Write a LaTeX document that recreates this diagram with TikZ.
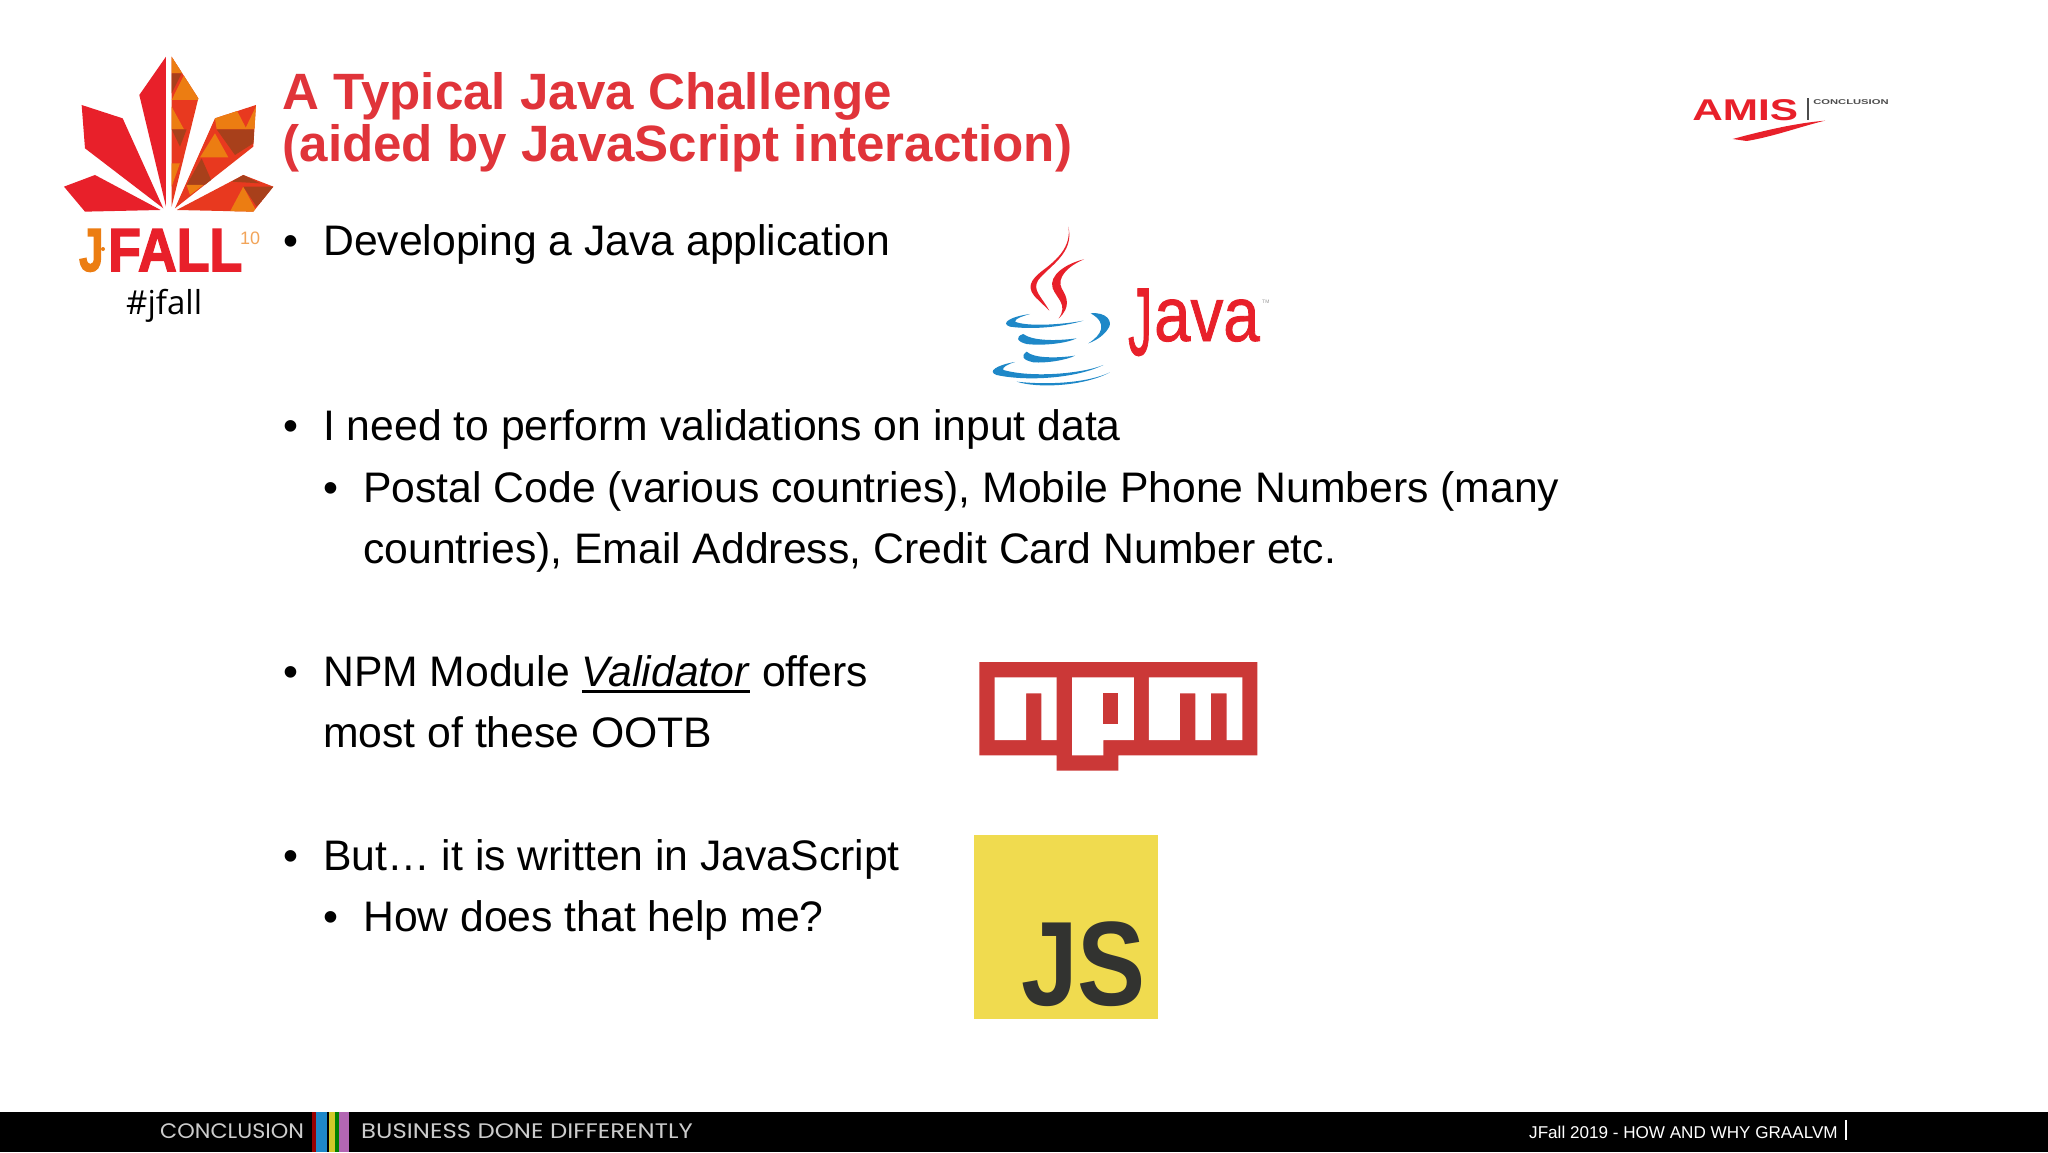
\documentclass[tikz,border=0pt]{standalone}
\usepackage{fontspec}
\setmainfont{Liberation Sans}
\newfontfamily\tagfont{Open Sans}
\newfontfamily\barfont{Poppins}
\newfontfamily\logofont{Liberation Sans}[BoldFeatures={FakeBold=2.5}]
\newfontfamily\javafont{Liberation Sans}[FakeBold=1.2]
\usepackage{tikz}
\definecolor{titlered}{HTML}{E0343A}
\definecolor{leafred}{HTML}{E8202A}
\definecolor{leafmid}{HTML}{E8391F}
\definecolor{leafdark}{HTML}{A8401B}
\definecolor{leaforange}{HTML}{EC7D12}
\definecolor{javablue}{HTML}{1E88C8}
\definecolor{npmred}{HTML}{CB3837}
\definecolor{jsyellow}{HTML}{F0DB4F}
\definecolor{jsdark}{HTML}{323330}
\newlength\ulwidth
\newcommand{\barred}[1]{\settowidth{\ulwidth}{#1}\rlap{\rule[-6.5pt]{\ulwidth}{2.4pt}}#1}

\begin{document}
\begin{tikzpicture}[x=1pt,y=-1pt,every node/.style={inner sep=0pt,anchor=base west},
	title text/.style={font=\fontsize{51.1}{51.1}\selectfont\bfseries,text=titlered},
	body text/.style={font=\fontsize{42.7}{42.7}\selectfont,text=black},
	bar text/.style={font=\fontsize{21}{21}\barfont,text=black!20},
	leaf/.style={fill=leafred},
	leaf tone/.style={fill=leafmid},
	steam/.style={fill=leafred},
	cup/.style={fill=javablue}]

				\useasboundingbox (0,0) rectangle (2048,1152);
				\fill[white] (0,0) rectangle (2048,1152);

				\node[title text] (title1) at (282.5,109) {A Typical Java Challenge};
				\node[title text] (title2) at (282.5,161) {(aided by JavaScript interaction)};

				\node[body text] (b1) at (283,255.5) {•};
				\node[body text] (t1) at (323,255.5) {Developing a Java application};
				\node[body text] (b2) at (283,440) {•};
				\node[body text] (t2) at (323,440) {I need to perform validations on input data};
				\node[body text] (b3) at (323,502) {•};
				\node[body text] (t3) at (363,502) {Postal Code (various countries), Mobile Phone Numbers (many};
				\node[body text] (t4) at (363,563) {countries), Email Address, Credit Card Number etc.};
				\node[body text] (b4) at (283,686) {•};
				\node[body text] (t5) at (323,686) {NPM Module \barred{\textit{Validator}} offers};
				\node[body text] (t6) at (323,747) {most of these OOTB};
				\node[body text] (b5) at (283,870) {•};
				\node[body text] (t7) at (323,870) {But… it is written in JavaScript};
				\node[body text] (b6) at (323,931) {•};
				\node[body text] (t8) at (363,931) {How does that help me?};

				% conference mark
				\begin{scope}[shift={(40,30)},scale=0.3333]
					\fill[leaf] (378,80) -- (298,195) -- (378,530) -- cycle;
					\fill[leaf] (125,225) -- (248,265) -- (370,535) -- (135,355) -- cycle;
					\fill[leaf] (72,470) -- (165,435) -- (362,540) -- (135,545) -- cycle;
					\begin{scope}
						\clip (395,80) -- (475,205) -- (395,530) -- cycle;
						\fill[leaf tone] (380,70) rectangle (480,540);
						\fill[leaforange] (395,80) -- (430,130) -- (395,130) -- cycle;
						\fill[leafdark] (395,130) -- (425,130) -- (395,190) -- cycle;
						\fill[leaforange] (395,210) -- (480,210) -- (437,125) -- cycle;
						\fill[leaforange] (395,230) -- (432,298) -- (395,298) -- cycle;
						\fill[leafdark] (395,298) -- (440,298) -- (420,350) -- cycle;
						\fill[leaforange] (395,400) -- (420,400) -- (395,470) -- cycle;
					\end{scope}
					\begin{scope}
						\clip (648,225) -- (525,265) -- (405,535) -- (640,350) -- cycle;
						\fill[leaf tone] (400,220) rectangle (650,540);
						\fill[leaforange] (525,265) -- (590,240) -- (620,298) -- (530,298) -- cycle;
						\fill[leaforange] (615,298) -- (650,298) -- (650,225) -- cycle;
						\fill[leafdark] (530,298) -- (645,298) -- (640,340) -- (585,375) -- cycle;
						\fill[leaforange] (480,382) -- (565,382) -- (525,310) -- cycle;
						\fill[leafdark] (440,465) -- (520,465) -- (485,385) -- cycle;
						\fill[leaforange] (440,465) -- (490,465) -- (450,495) -- cycle;
					\end{scope}
					\begin{scope}
						\clip (700,470) -- (610,435) -- (410,540) -- (640,545) -- cycle;
						\fill[leaf tone] (400,430) rectangle (705,550);
						\fill[leaforange] (570,545) -- (650,545) -- (610,470) -- cycle;
						\fill[leafdark] (610,470) -- (705,470) -- (650,530) -- cycle;
						\fill[leafdark] (610,435) -- (660,460) -- (575,455) -- cycle;
					\end{scope}
				\end{scope}
				\node[font=\fontsize{61}{61}\logofont\bfseries,text=leaforange,xscale=0.72] (jmark) at (79,271) {J};
				\node[circle,fill=leaforange,minimum size=4pt,anchor=center] (jdot) at (103,249) {};
				\node[font=\fontsize{61}{61}\logofont\bfseries,text=leafred,xscale=0.88] (fallmark) at (108,271) {FALL};
				\node[font=\fontsize{18}{18}\selectfont,text=leaforange!70] (tenmark) at (240,244) {10};
				\node[font=\fontsize{33}{33}\tagfont,text=black] (hashtag) at (126,314) {\#jfall};

				% java logo
				\begin{scope}[shift={(960,210)},scale=0.3333]
					\fill[steam] (325,50) .. controls (335,110) and (290,150) .. (250,180) .. controls (210,210) and (195,235) .. (235,270) -- (268,302) .. controls (245,260) and (215,240) .. (235,210) .. controls (265,170) and (345,130) .. (325,50);
					\fill[steam] (372,148) .. controls (320,160) and (265,195) .. (278,235) .. controls (290,265) and (325,285) .. (296,325) .. controls (335,290) and (320,260) .. (305,235) .. controls (290,205) and (320,170) .. (372,148);
					\fill[cup] (210,312) .. controls (150,320) and (120,340) .. (150,350) .. controls (220,360) and (310,350) .. (370,332) .. controls (300,345) and (200,350) .. (165,335) .. controls (165,325) and (190,318) .. (210,312);
					\fill[cup] (392,310) .. controls (440,305) and (460,335) .. (445,355) .. controls (430,380) and (400,395) .. (385,400) .. controls (425,375) and (445,340) .. (392,310);
					\fill[cup] (190,372) .. controls (165,380) and (170,395) .. (200,402) .. controls (250,408) and (320,400) .. (350,385) .. controls (300,392) and (220,395) .. (190,372);
					\fill[cup] (200,425) .. controls (180,440) and (190,450) .. (220,457) .. controls (260,460) and (320,450) .. (345,437) .. controls (290,445) and (220,445) .. (200,425);
					\fill[cup] (165,456) .. controls (110,465) and (80,485) .. (110,495) .. controls (200,515) and (350,505) .. (430,465) .. controls (370,490) and (220,505) .. (130,480) .. controls (125,472) and (145,462) .. (165,456);
					\fill[cup] (170,515) .. controls (230,535) and (370,530) .. (450,487) .. controls (380,520) and (260,525) .. (170,515);
				\end{scope}
				\node[font=\fontsize{77}{77}\javafont,text=leafred,xscale=0.62,yscale=1.25] (javaj) at (1128,355) {J};
				\node[font=\fontsize{77}{77}\javafont,text=leafred,xscale=0.85] (javarest) at (1154,341) {ava};
				\node[font=\fontsize{5}{5}\selectfont,text=black!40] (javatm) at (1262,303) {TM};

				% amis logo
				\begin{scope}[shift={(1660,70)},scale=0.3333]
					\fill[leafred] (218,207) .. controls (300,185) and (400,160) .. (495,152) .. controls (420,170) and (340,200) .. (260,213) -- cycle;
					\fill[black!70] (442,85) rectangle (447,150);
				\end{scope}
				\node[font=\fontsize{30}{30}\selectfont\bfseries,text=leafred,xscale=1.41] (amis) at (1692,120) {AMIS};
				\node[font=\fontsize{7}{7}\selectfont\bfseries,text=black!70,xscale=1.6] (amissub) at (1813,104) {CONCLUSION};

				% npm logo
				\begin{scope}[shift={(960,650)},scale=0.3333]
					\fill[npmred] (58,36) -- (892,36) -- (892,316) -- (475,316) -- (475,362) -- (290,362) -- (290,316) -- (58,316) -- cycle;
					\fill[white] (104,82) -- (290,82) -- (290,270) -- (244,270) -- (244,130) -- (198,130) -- (198,270) -- (104,270) -- cycle;
					\fill[white] (336,82) -- (522,82) -- (522,270) -- (430,270) -- (430,316) -- (336,316) -- cycle;
					\fill[npmred] (430,130) rectangle (475,222);
					\fill[white] (567,82) -- (847,82) -- (847,270) -- (800,270) -- (800,130) -- (753,130) -- (753,270) -- (706,270) -- (706,130) -- (660,130) -- (660,270) -- (567,270) -- cycle;
				\end{scope}

				% js logo
				\fill[jsyellow] (974,835) rectangle (1158,1019);
				\node[font=\fontsize{120}{120}\selectfont\bfseries,text=jsdark,anchor=base east,xscale=0.85] (jsword) at (1146,1005) {JS};

				% footer
				\fill[black] (0,1112) rectangle (2048,1152);
				\fill[red!60!black] (312,1112) rectangle (316,1152);
				\fill[javablue] (316,1112) rectangle (327,1152);
				\fill[yellow!80!black] (329,1112) rectangle (335,1152);
				\fill[green!50!black] (335,1112) rectangle (339,1152);
				\fill[violet!60!white] (339,1112) rectangle (349,1152);
				\node[bar text,xscale=1.06] (section) at (160,1138) {CONCLUSION};
				\node[bar text,xscale=1.16] (slogan) at (361,1138) {BUSINESS DONE DIFFERENTLY};
				\node[font=\fontsize{17.1}{17.1}\selectfont,text=white] (talk) at (1529,1138) {JFall 2019 - HOW AND WHY GRAALVM};
				\fill[white] (1845,1120) rectangle (1847,1140);

			\end{tikzpicture}
\end{document}
